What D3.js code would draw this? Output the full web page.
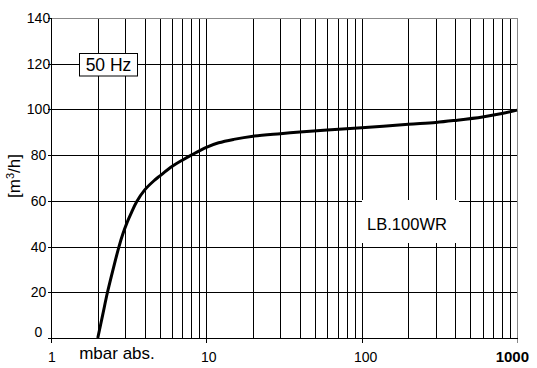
<!DOCTYPE html>
<html>
<head>
<meta charset="utf-8">
<script src="https://cdn.jsdelivr.net/npm/d3@7"></script>
<style>
  html, body { margin: 0; padding: 0; background: #fff; }
  svg { display: block; }
  text { font-family: "Liberation Sans", Arial, sans-serif; fill: #000; }
</style>
</head>
<body>
<svg id="chart" width="537" height="368"></svg>
<script>
// ---- data ----
const pressure = [2, 2.15, 2.31, 2.52, 2.74, 2.9, 3.1, 3.3, 3.56, 4, 4.6, 5, 6, 7, 8, 10, 12, 15, 20, 30, 40, 60, 100, 200, 300, 400, 600, 800, 1000];
const flow     = [0, 10, 20, 30.5, 40, 45.5, 50.8, 55, 59.6, 64.7, 68.8, 70.8, 75, 77.8, 80, 83.4, 85.4, 86.9, 88.3, 89.4, 90.1, 91, 92, 93.5, 94.3, 95.2, 96.7, 98.2, 99.7];
const xTickValues = [1, 10, 100, 1000];
const xTickLabels = ["1", "10", "100", "1000"];
const yTickValues = [0, 20, 40, 60, 80, 100, 120, 140];
const yTickLabels = ["0", "20", "40", "60", "80", "100", "120", "140"];
const xTitle = "mbar abs.";
const freqLabel = "50 Hz";
const modelLabel = "LB.100WR";

// ---- layout ----
const svg = d3.select("#chart");
const x = d3.scaleLog().domain([1, 1000]).range([51, 517]);
const y = d3.scaleLinear().domain([0, 140]).range([338, 18]);
const px = v => Math.round(v) + 0.5;

const grid = svg.append("g").attr("shape-rendering", "crispEdges");

// vertical grid lines (log minor ticks)
grid.selectAll("line.vg")
  .data(x.ticks().filter(d => d > 1 && d < 1000))
  .join("line")
  .attr("x1", d => px(x(d))).attr("x2", d => px(x(d)))
  .attr("y1", y(140)).attr("y2", y(0))
  .attr("stroke", "#000").attr("stroke-width", 1);

// horizontal grid lines
grid.selectAll("line.hg")
  .data(yTickValues.filter(d => d > 0 && d < 140))
  .join("line")
  .attr("x1", x(1)).attr("x2", x(1000))
  .attr("y1", d => px(y(d))).attr("y2", d => px(y(d)))
  .attr("stroke", "#000").attr("stroke-width", 1);

// top & right border (gray)
grid.append("line").attr("x1", x(1)).attr("x2", px(x(1000))).attr("y1", px(y(140))).attr("y2", px(y(140))).attr("stroke", "#888");
grid.append("line").attr("x1", px(x(1000))).attr("x2", px(x(1000))).attr("y1", px(y(140))).attr("y2", y(0)).attr("stroke", "#888");

// left & bottom axes
grid.append("line").attr("x1", px(x(1))).attr("x2", px(x(1))).attr("y1", px(y(140))).attr("y2", px(y(0))).attr("stroke", "#000");
grid.append("line").attr("x1", px(x(1))).attr("x2", px(x(1000)) + 0.5).attr("y1", px(y(0))).attr("y2", px(y(0))).attr("stroke", "#000");

// y ticks
grid.selectAll("line.yt").data(yTickValues).join("line")
  .attr("x1", px(x(1)) - 4).attr("x2", px(x(1)))
  .attr("y1", d => px(y(d))).attr("y2", d => px(y(d)))
  .attr("stroke", "#000");
// x ticks
grid.selectAll("line.xt").data(xTickValues).join("line")
  .attr("x1", d => px(x(d))).attr("x2", d => px(x(d)))
  .attr("y1", px(y(0))).attr("y2", px(y(0)) + 4)
  .attr("stroke", d => d === 1000 ? "#888" : "#000");

// y tick labels
svg.selectAll("text.yl").data(yTickValues).join("text")
  .attr("x", 38.5)
  .attr("y", d => d === 0 ? y(d) - 1 : y(d) + 5)
  .attr("text-anchor", "middle")
  .attr("font-size", 14)
  .text((d, i) => yTickLabels[i]);

// x tick labels
svg.selectAll("text.xl").data(xTickValues).join("text")
  .attr("x", (d, i) => i === xTickValues.length - 1 ? x(d) + 12 : x(d) + 1 + i * 1.5)
  .attr("y", 361.5)
  .attr("text-anchor", (d, i) => i === xTickValues.length - 1 ? "end" : "middle")
  .attr("font-size", (d, i) => i === xTickValues.length - 1 ? 15 : 14)
  .attr("font-weight", (d, i) => i === xTickValues.length - 1 ? "bold" : "normal")
  .text((d, i) => xTickLabels[i]);

// x title
svg.append("text").attr("x", 117).attr("y", 359).attr("text-anchor", "middle")
  .attr("font-size", 17).text(xTitle);

// y title
const yt = svg.append("text").attr("transform", "translate(20,176) rotate(-90)")
  .attr("text-anchor", "middle").attr("font-size", 17);
yt.append("tspan").text("[m");
yt.append("tspan").attr("baseline-shift", "super").attr("font-size", 11).text("3");
yt.append("tspan").text("/h]");

// 50 Hz box
svg.append("rect").attr("x", 79.5).attr("y", 53.5).attr("width", 58).attr("height", 22.5)
  .attr("fill", "#fff").attr("stroke", "#000").attr("stroke-width", 1);
svg.append("text").attr("x", 108.5).attr("y", 70.7).attr("text-anchor", "middle")
  .attr("font-size", 17.5).text(freqLabel);

// model label box
svg.append("rect").attr("x", 362).attr("y", 200).attr("width", 97).attr("height", 43)
  .attr("fill", "#fff");
svg.append("text").attr("x", 407).attr("y", 230).attr("text-anchor", "middle")
  .attr("font-size", 16.5).text(modelLabel);

// curve
const line = d3.line()
  .x((d, i) => x(pressure[i]))
  .y(d => y(d))
  .curve(d3.curveCatmullRom.alpha(0.5));
svg.append("path").datum(flow)
  .attr("d", line)
  .attr("fill", "none").attr("stroke", "#000").attr("stroke-width", 3)
  .attr("stroke-linejoin", "round").attr("stroke-linecap", "butt");
</script>
</body>
</html>
